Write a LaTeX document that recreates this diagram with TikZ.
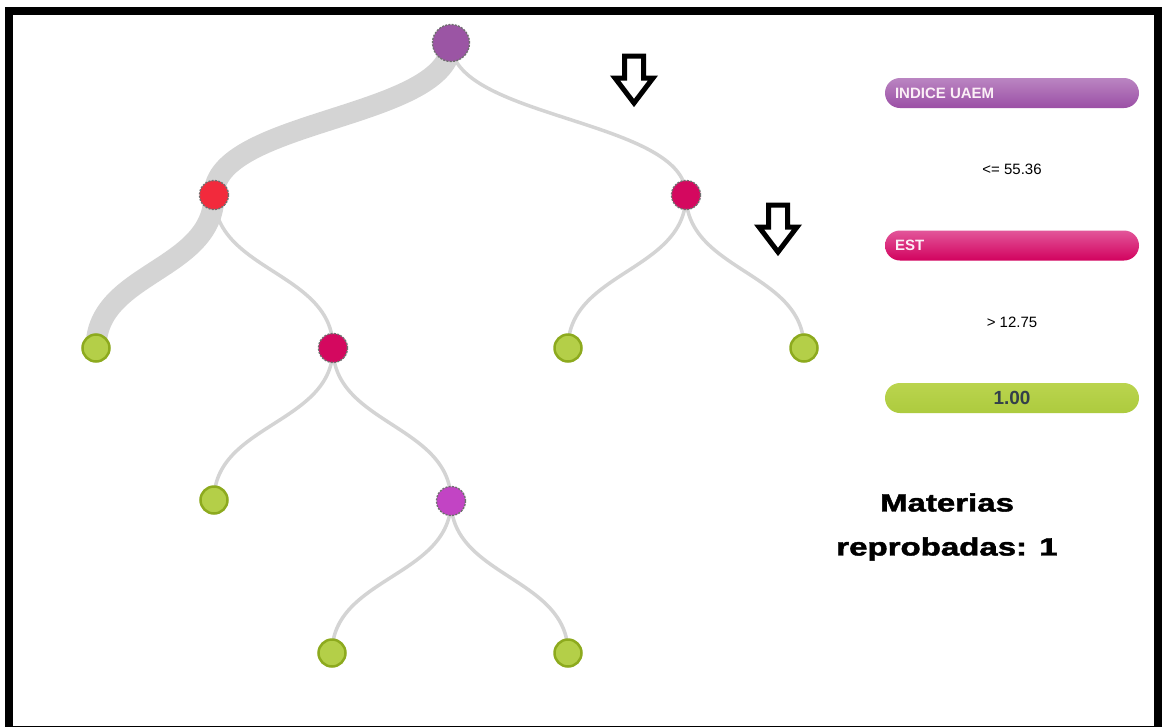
\documentclass[tikz,border=0pt]{standalone}
\usepackage{fontspec}
\setmainfont{Liberation Sans}
\newfontfamily\heavyfont[FakeBold=1.6]{Liberation Sans Bold}
\usetikzlibrary{calc,backgrounds}

\definecolor{edgegray}{HTML}{D4D4D4}
\definecolor{rootpurple}{HTML}{9B55A4}
\definecolor{splitred}{HTML}{F22A3C}
\definecolor{splitcrimson}{HTML}{D4085F}
\definecolor{splitmagenta}{HTML}{C244C4}
\definecolor{leafgreen}{HTML}{B4CF48}
\definecolor{leafrim}{HTML}{8DAA1E}
\definecolor{rimgray}{HTML}{707070}
\definecolor{barpurpletop}{HTML}{BA85C2}
\definecolor{barpurplebot}{HTML}{9B4FA5}
\definecolor{barpinktop}{HTML}{E2569A}
\definecolor{barpinkbot}{HTML}{D2025E}
\definecolor{bargreentop}{HTML}{BAD44E}
\definecolor{bargreenbot}{HTML}{ADCB3E}
\definecolor{labelwhite}{HTML}{FBEFF6}
\definecolor{valuegray}{HTML}{33404A}

\tikzset{
  split/.style={circle, inner sep=0pt, minimum size=#1, draw=rimgray,
    line width=1.4pt, dash pattern=on 2pt off 1.3pt},
  split/.default=29,
  leaf/.style={circle, inner sep=0pt, minimum size=27, fill=leafgreen,
    draw=leafrim, line width=2.5pt},
  twig/.style={draw=edgegray, line width=3.5pt},
  trunk/.style={draw=edgegray, line width=21pt},
  legendbar/.style={rectangle, rounded corners=15pt, minimum width=254,
    minimum height=30, inner sep=0pt},
  legendname/.style={font=\bfseries\fontsize{15}{18}\selectfont,
    text=labelwhite, inner sep=0pt, anchor=west},
  rule/.style={font=\fontsize{15}{18}\selectfont, text=black, inner sep=0pt},
  downarrow/.pic={
    \draw[line width=5pt, line join=miter, fill=white]
      (-9.5,0) -- (9.5,0) -- (9.5,22) -- (19,22) -- (0,47)
      -- (-19,22) -- (-9.5,22) -- cycle;
  }
}

% parent-to-child link as a vertical S-curve
\newcommand{\branch}[3][twig]{%
  \path ($(#2)!0.5!(#3)$) coordinate (mid);
  \draw[#1] (#2.center) .. controls (#2.center |- mid)
    and (#3.center |- mid) .. (#3.center);}

\begin{document}
\begin{tikzpicture}[x=1pt, y=-1pt]
\useasboundingbox (0,0) rectangle (1162,726);

% decision tree nodes
\node[split=37, fill=rootpurple]   (root) at (451,43)  {};
\node[split, fill=splitred]        (a)    at (214,195) {};
\node[split, fill=splitcrimson]    (b)    at (686,195) {};
\node[leaf]                        (a1)   at (96,348)  {};
\node[split, fill=splitcrimson]    (a2)   at (333,348) {};
\node[leaf]                        (b1)   at (568,348) {};
\node[leaf]                        (b2)   at (804,348) {};
\node[leaf]                        (c1)   at (214,500) {};
\node[split, fill=splitmagenta]    (c2)   at (451,501) {};
\node[leaf]                        (d1)   at (332,653) {};
\node[leaf]                        (d2)   at (568,653) {};

\begin{scope}[on background layer]
  \fill[white] (0,0) rectangle (1162,726);
  \branch[trunk]{root}{a}
  \branch[trunk]{a}{a1}
  \branch{root}{b}
  \branch{a}{a2}
  \branch{b}{b1}
  \branch{b}{b2}
  \branch{a2}{c1}
  \branch{a2}{c2}
  \branch{c2}{d1}
  \branch{c2}{d2}
\end{scope}

% path markers
\pic at (634,56)  {downarrow};
\pic at (778,205) {downarrow};

% legend
\node[legendbar, top color=barpurpletop, bottom color=barpurplebot]
  (bar1) at (1012,93) {};
\node[legendname] (name1) at ([xshift=10pt]bar1.west) {INDICE UAEM};
\node[rule] (rule1) at (1012,169) {<= 55.36};

\node[legendbar, top color=barpinktop, bottom color=barpinkbot]
  (bar2) at (1012,245.5) {};
\node[legendname] (name2) at ([xshift=10pt]bar2.west) {EST};
\node[rule] (rule2) at (1012,322) {> 12.75};

\node[legendbar, top color=bargreentop, bottom color=bargreenbot]
  (bar3) at (1012,398) {};
\node[font=\bfseries\fontsize{19}{22}\selectfont, text=valuegray, inner sep=0pt]
  (value) at (bar3.center) {1.00};

\node[font=\heavyfont\fontsize{25}{44}\selectfont, align=center, inner sep=0pt]
  (count) at (947,527)
  {\scalebox{1.32}[1]{Materias}\\\scalebox{1.32}[1]{reprobadas: 1}};

% frame
\draw[line width=8pt] (9,11) rectangle (1158,730);
\end{tikzpicture}
\end{document}
